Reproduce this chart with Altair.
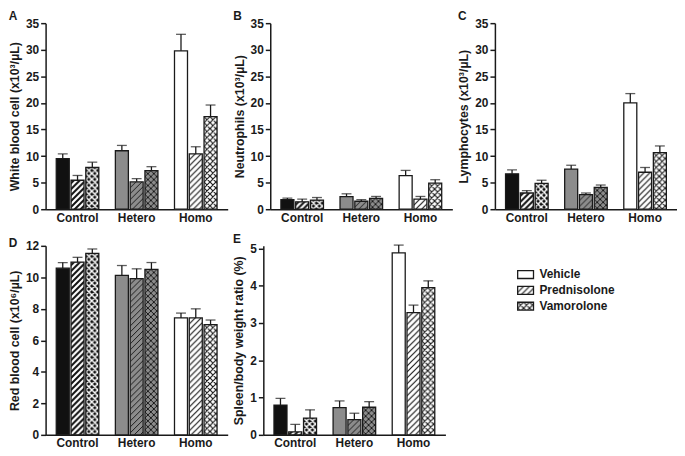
import base64
import altair as alt
import pandas as pd

# ---------------- data ----------------
genotypes = ["Control", "Hetero", "Homo"]
treatments = ["Vehicle", "Prednisolone", "Vamorolone"]

# order: Control(Veh, Pred, Vam), Hetero(...), Homo(...)
wbc_mean = [9.5, 5.45, 7.85, 11.0, 5.15, 7.25, 29.8, 10.4, 17.4]
wbc_sem = [0.9, 0.9, 1.0, 1.0, 0.6, 0.75, 3.1, 1.35, 2.2]

neut_mean = [1.8, 1.4, 1.7, 2.35, 1.5, 2.05, 6.3, 1.9, 4.9]
neut_sem = [0.3, 0.5, 0.5, 0.55, 0.3, 0.35, 1.0, 0.5, 0.65]

lymph_mean = [6.65, 3.05, 4.85, 7.55, 2.75, 4.1, 20.0, 6.95, 10.65]
lymph_sem = [0.75, 0.45, 0.6, 0.72, 0.3, 0.45, 1.75, 0.9, 1.25]

rbc_mean = [10.58, 10.96, 11.52, 10.12, 9.92, 10.5, 7.42, 7.42, 7.0]
rbc_sem = [0.36, 0.31, 0.28, 0.63, 0.62, 0.44, 0.31, 0.58, 0.29]

spleen_mean = [0.80, 0.08, 0.45, 0.73, 0.41, 0.74, 4.88, 3.28, 3.95]
spleen_sem = [0.18, 0.20, 0.22, 0.18, 0.17, 0.15, 0.21, 0.20, 0.18]

# ---------------- styling ----------------
FONT = "Liberation Sans"
INK = "#1a1a1a"
genotype_fill = ["#111111", "#8c8c8c", "#ffffff"]
hatch_style = {
    "Control": {"Prednisolone": ("#ffffff", 2.2), "Vamorolone": ("#ffffff", 1.5)},
    "Hetero": {"Prednisolone": ("#1a1a1a", 1.0), "Vamorolone": ("#1a1a1a", 1.0)},
    "Homo": {"Prednisolone": ("#1a1a1a", 1.2), "Vamorolone": ("#1a1a1a", 1.2)},
}


def hatch_url(treatment, color, width):
    path = "M-1.5,1.5 L1.5,-1.5 M0,6 L6,0 M4.5,7.5 L7.5,4.5"
    if treatment == "Vamorolone":
        path += " M-1.5,4.5 L1.5,7.5 M0,0 L6,6 M4.5,-1.5 L7.5,1.5"
    svg = (
        '<svg xmlns="http://www.w3.org/2000/svg">'
        '<defs><pattern id="h" patternUnits="userSpaceOnUse" width="6" height="6">'
        f'<path d="{path}" stroke="{color}" stroke-width="{width}" fill="none"/>'
        '</pattern></defs>'
        '<rect width="100%" height="100%" fill="url(#h)"/></svg>'
    )
    return "data:image/svg+xml;base64," + base64.b64encode(svg.encode()).decode()


def panel_frame(mean, sem):
    rows = []
    i = 0
    for g in genotypes:
        for t in treatments:
            url = "" if t == "Vehicle" else hatch_url(t, *hatch_style[g][t])
            rows.append(dict(genotype=g, treatment=t, value=mean[i],
                             upper=mean[i] + sem[i], url=url))
            i += 1
    return pd.DataFrame(rows)


def panel(letter, ytitle, mean, sem, ymax, ticks, height, title_offset):
    df = panel_frame(mean, sem)
    x = alt.X("genotype:N", sort=genotypes,
              scale=alt.Scale(paddingInner=0.28, paddingOuter=0.18),
              axis=alt.Axis(title=None, ticks=False, labelAngle=0, labelPadding=3))
    xo = alt.XOffset("treatment:N", sort=treatments,
                     scale=alt.Scale(paddingInner=0.12, paddingOuter=0))
    y_scale = alt.Scale(domain=[0, ymax], nice=False, zero=True)
    y_axis = alt.Axis(title=ytitle, values=ticks)
    y_val = alt.Y("value:Q", scale=y_scale, axis=y_axis, stack=None)
    y_up = alt.Y("upper:Q", scale=y_scale, axis=y_axis)

    base = alt.Chart(df).encode(x=x, xOffset=xo)
    bars = base.mark_bar(strokeWidth=0).encode(
        y=y_val,
        color=alt.Color("genotype:N", scale=alt.Scale(domain=genotypes, range=genotype_fill), legend=None),
    )
    hatch = base.transform_filter(alt.datum.treatment != "Vehicle").mark_image(aspect=False).encode(
        y=y_val, y2=alt.datum(0), url="url:N")
    outline = base.mark_bar(fillOpacity=0, stroke=INK, strokeWidth=1.3).encode(y=y_val)
    err = base.mark_rule(color=INK, strokeWidth=1.3).encode(y=y_val, y2="upper:Q")
    cap = base.mark_tick(color=INK, thickness=1.3, size=10).encode(y=y_up)
    return alt.layer(bars, hatch, outline, err, cap).properties(
        width=184, height=height,
        title=alt.TitleParams(letter, anchor="start", frame="bounds", fontSize=12,
                              fontWeight="bold", font=FONT, color=INK, offset=title_offset),
    )


A = panel("A", "White blood cell (x10³/µL)", wbc_mean, wbc_sem, 35, list(range(0, 36, 5)), 188, -6)
B = panel("B", "Neutrophils (x10³/µL)", neut_mean, neut_sem, 35, list(range(0, 36, 5)), 188, -6)
C = panel("C", "Lymphocytes (x10³/µL)", lymph_mean, lymph_sem, 35, list(range(0, 36, 5)), 188, -6)
D = panel("D", "Red blood cell (x10⁶/µL)", rbc_mean, rbc_sem, 12, list(range(0, 13, 2)), 191, -10)
E = panel("E", "Spleen/body weight ratio (%)", spleen_mean, spleen_sem, 5.07, list(range(0, 6, 1)), 191, -4)

# ---------------- legend ----------------
leg_urls = ["" if t == "Vehicle" else hatch_url(t, INK, 1.2) for t in treatments]
leg_df = pd.DataFrame({"treatment": treatments, "url": leg_urls})
ly = alt.Y("treatment:N", sort=treatments, axis=None,
           scale=alt.Scale(range=[21, 69], paddingInner=0.5, paddingOuter=0.25))
leg_base = alt.Chart(leg_df).encode(y=ly)
leg_box = leg_base.mark_rect(fill="white", stroke=INK, strokeWidth=1.3).encode(
    x=alt.value(68), x2=alt.value(84))
leg_img = leg_base.transform_filter(alt.datum.treatment != "Vehicle").mark_image(aspect=False).encode(
    x=alt.value(68), x2=alt.value(84), url="url:N")
leg_txt = leg_base.mark_text(align="left", baseline="middle", font=FONT, fontSize=12,
                             fontWeight="bold", color=INK).encode(x=alt.value(90), text="treatment:N")
legend = alt.layer(leg_box, leg_img, leg_txt).properties(width=140, height=191)

chart = alt.vconcat(
    alt.hconcat(A, B, C, spacing=5),
    alt.hconcat(D, E, legend, spacing=5),
    spacing=10,
).properties(padding=0).configure_view(stroke=None).configure_axis(
    labelFont=FONT, labelFontSize=12, labelFontWeight="bold", labelColor=INK,
    titleFont=FONT, titleFontSize=12.5, titleFontWeight="bold", titleColor=INK,
    domainColor=INK, domainWidth=1.5, tickColor=INK, tickWidth=1.5, tickSize=5,
    grid=False, labelPadding=2, titlePadding=4,
)

chart.save("out.html", embed_options={"renderer": "svg", "actions": False})
